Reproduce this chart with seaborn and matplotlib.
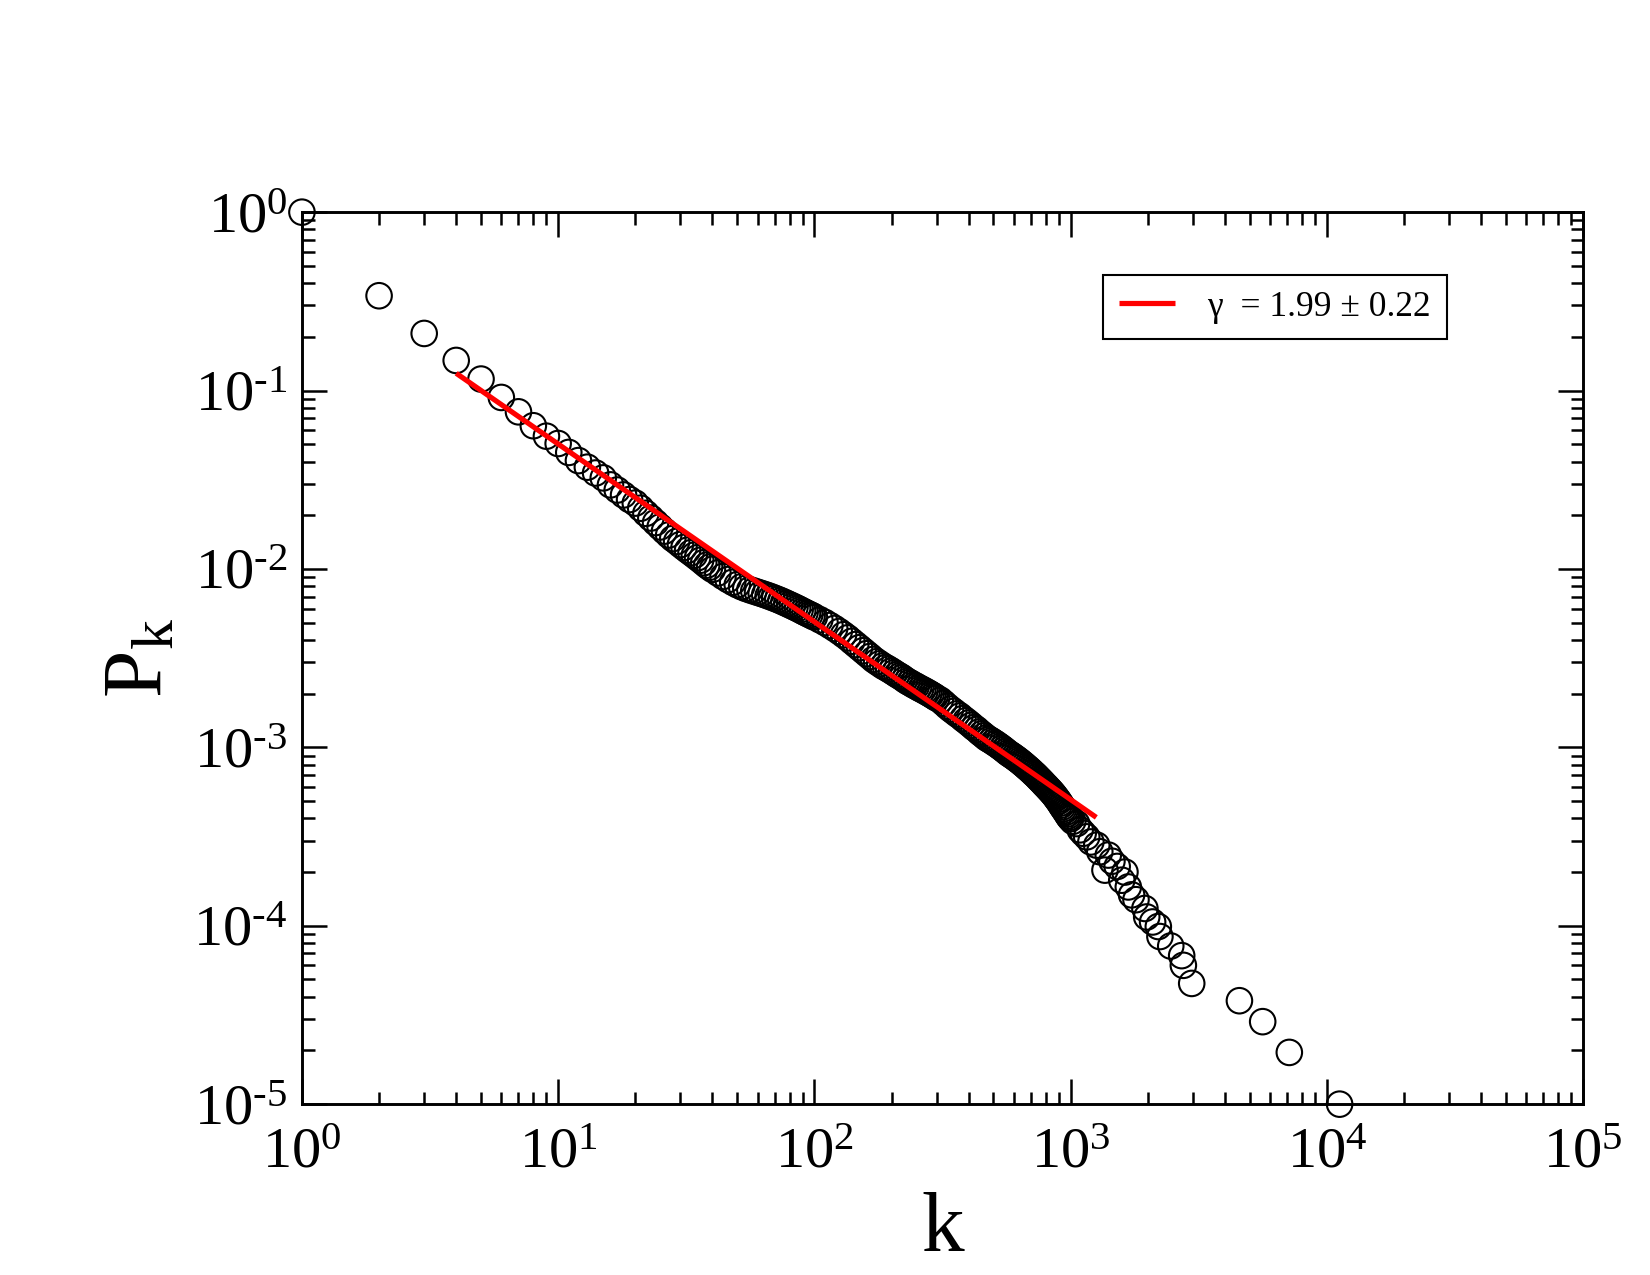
import matplotlib
matplotlib.use("Agg")
import matplotlib.pyplot as plt
import seaborn as sns
import pandas as pd
import math
from matplotlib.ticker import LogLocator, NullFormatter, FuncFormatter

# ---------------- data ----------------
k_values = [
    1, 2, 3, 4, 5, 6, 7, 8, 9, 10, 11, 12, 13, 14, 15, 16, 17, 18, 19, 20,
    21, 22, 23, 24, 25, 26, 27, 28, 29, 30, 31, 32, 33, 34, 35, 36, 37, 38, 39, 40,
    42, 44, 46, 48, 50, 52, 54, 56, 58, 60, 62, 64, 66, 68, 70, 72, 74, 76, 78, 80,
    82, 84, 86, 88, 90, 92, 94, 96, 98, 100,
    105, 110, 115, 120, 125, 130, 135, 140, 145, 150, 155, 160, 165, 170, 175, 180,
    185, 190, 195, 200, 205, 210, 215, 220, 225, 230, 235, 240, 245, 250, 255, 260,
    265, 270, 275, 280, 285, 290, 295, 300,
    310, 320, 330, 340, 350, 360, 370, 380, 390, 400, 410, 420, 430, 440, 450, 460,
    470, 480, 490, 500, 510, 520, 530, 540, 550, 560, 570, 580, 590, 600, 610, 620,
    630, 640, 650, 660, 670, 680, 690, 700, 710, 720, 730, 740, 750, 760, 770, 780,
    790, 800, 810, 820, 830, 840, 850, 860, 870, 880, 890, 900, 910, 920, 930, 940,
    950, 960, 970, 980, 990, 1000,
    1020, 1056, 1090, 1120, 1156, 1200, 1265, 1300, 1362, 1403, 1450, 1520, 1584,
    1630, 1680, 1730, 1800, 1950, 1982, 2090, 2200, 2232, 2460, 2714, 2755, 2970,
    4560, 5620, 7140, 11220,
]
p_values = [
    1.0, 0.34, 0.209, 0.1475, 0.116, 0.0915, 0.076, 0.0635, 0.0555, 0.0505,
    0.0450, 0.0405, 0.0372, 0.0345, 0.0324, 0.0296, 0.0277, 0.0260, 0.0245, 0.0234,
    0.0219, 0.0205, 0.0193, 0.0182, 0.0172, 0.0163, 0.0155, 0.0148, 0.01426, 0.0137,
    0.0132, 0.01274, 0.01233, 0.01194, 0.01156, 0.0112, 0.01084, 0.0105, 0.01022, 0.00995,
    0.0095, 0.00908, 0.00872, 0.00842, 0.00816, 0.00795, 0.00778, 0.00764, 0.00752, 0.0074,
    0.00729, 0.00718, 0.00707, 0.00696, 0.00685, 0.00674, 0.00663, 0.00652, 0.00641, 0.0063,
    0.0062, 0.0061, 0.006, 0.0059, 0.0058, 0.00571, 0.00562, 0.00554, 0.00546, 0.00538,
    0.00519, 0.00501, 0.00482, 0.00464, 0.00446, 0.00428, 0.00411, 0.00393, 0.00377, 0.00362,
    0.00348, 0.00335, 0.00323, 0.00311, 0.00302, 0.00294, 0.00286, 0.0028, 0.00274, 0.00268,
    0.00262, 0.00256, 0.00251, 0.00246, 0.0024, 0.00235, 0.00231, 0.00227, 0.00223, 0.0022,
    0.00216, 0.00213, 0.0021, 0.00207, 0.00204, 0.00201, 0.00198, 0.00195, 0.00192, 0.00189,
    0.00184, 0.00177, 0.0017, 0.00164, 0.00159, 0.00154, 0.0015, 0.00145, 0.00141, 0.00137,
    0.00133, 0.00129, 0.00126, 0.00122, 0.00119, 0.00116, 0.00113, 0.00111, 0.00109, 0.00107,
    0.00105, 0.00103, 0.00101, 0.00099, 0.00097, 0.00095, 0.00093, 0.000915, 0.0009, 0.000885,
    0.00087, 0.000855, 0.00084, 0.000825, 0.00081, 0.000795, 0.00078, 0.000766, 0.000752, 0.000738,
    0.000724, 0.00071, 0.000698, 0.000684, 0.00067, 0.000658, 0.000645, 0.000633, 0.00062, 0.000609,
    0.000598, 0.000586, 0.000576, 0.000565, 0.000554, 0.000543, 0.000532, 0.00052, 0.000509, 0.000498,
    0.000486, 0.000474, 0.000463, 0.000453, 0.000443, 0.000433, 0.000423, 0.000413, 0.000405, 0.000398,
    3.85e-4, 3.74e-4, 3.45e-4, 3.3e-4, 3.15e-4, 2.95e-4, 2.83e-4, 2.6e-4, 2.05e-4, 2.49e-4,
    2.3e-4, 2.15e-4, 1.8e-4, 2.0e-4, 1.65e-4, 1.49e-4, 1.4e-4, 1.25e-4, 1.12e-4, 1.05e-4,
    9.9e-5, 8.7e-5, 7.7e-5, 6.8e-5, 6.0e-5, 4.75e-5, 3.8e-5, 2.9e-5, 1.95e-5, 1.0e-5,
]

# power-law fit segment (end points)
fit_k = [4, 1260]
fit_p = [0.125, 4.05e-4]
fit_label = "\u03b3  = 1.99 \u00b1 0.22"

x_label = "k"
y_label = r"P$_{\mathrm{k}}$"
x_limits = (1, 1e5)
y_limits = (1e-5, 1)

# ---------------- style ----------------
sns.set_style("white")
plt.rcParams["font.family"] = ["Liberation Serif", "DejaVu Serif"]
plt.rcParams["mathtext.fontset"] = "custom"
plt.rcParams["mathtext.rm"] = "Liberation Serif"
plt.rcParams["mathtext.it"] = "Liberation Serif:italic"
plt.rcParams["mathtext.bf"] = "Liberation Serif:bold"
for key in ["text.color", "axes.labelcolor", "xtick.color", "ytick.color",
            "axes.edgecolor"]:
    plt.rcParams[key] = "black"

data = pd.DataFrame({"k": k_values, "P": p_values})
fit = pd.DataFrame({"k": fit_k, "P": fit_p})

fig = plt.figure(figsize=(11, 8.5), dpi=150)
ax = fig.add_axes([0.183, 0.134, 0.7764, 0.6996])

sns.scatterplot(data=data, x="k", y="P", ax=ax, marker="o", s=150,
                linewidth=1.0, legend=False, zorder=2, clip_on=False)
coll = ax.collections[0]
coll.set_facecolor("none")
coll.set_edgecolor("black")

sns.lineplot(data=fit, x="k", y="P", ax=ax, color="#ff0000", linewidth=2.5,
             estimator=None, sort=False, label=fit_label, zorder=3,
             solid_capstyle="butt")

ax.set_xscale("log")
ax.set_yscale("log")
ax.set_xlim(*x_limits)
ax.set_ylim(*y_limits)


def decade_label(v, pos):
    e = int(round(math.log10(v)))
    s = str(e).replace("-", "\u2010")
    return r"$\mathdefault{10^{%s}}$" % s


ax.xaxis.set_major_locator(LogLocator(base=10, numticks=10))
ax.yaxis.set_major_locator(LogLocator(base=10, numticks=10))
ax.xaxis.set_minor_locator(LogLocator(base=10, subs=range(2, 10), numticks=20))
ax.yaxis.set_minor_locator(LogLocator(base=10, subs=range(2, 10), numticks=20))
ax.xaxis.set_major_formatter(FuncFormatter(decade_label))
ax.yaxis.set_major_formatter(FuncFormatter(decade_label))
ax.xaxis.set_minor_formatter(NullFormatter())
ax.yaxis.set_minor_formatter(NullFormatter())

ax.tick_params(which="both", direction="in", top=True, right=True,
               bottom=True, left=True, color="black", labelcolor="black")
ax.tick_params(which="major", length=12, width=1.2, labelsize=28)
ax.tick_params(which="minor", length=6, width=1.2)
ax.tick_params(axis="x", which="major", pad=11)
ax.tick_params(axis="y", which="major", pad=7)

for sp in ax.spines.values():
    sp.set_visible(True)
    sp.set_color("black")
    sp.set_linewidth(1.4)

ax.set_xlabel(x_label, fontsize=41, labelpad=6)
ax.set_ylabel(y_label, fontsize=41, labelpad=6)

leg = ax.legend(loc="upper left", bbox_to_anchor=(0.625, 0.930),
                borderaxespad=0, fontsize=17, frameon=True, fancybox=False,
                shadow=False, framealpha=1, edgecolor="black",
                handlelength=1.6, handletextpad=0.9, borderpad=0.45)
leg.get_frame().set_linewidth(1.0)

fig.savefig("out.png", dpi=150, facecolor="white")
